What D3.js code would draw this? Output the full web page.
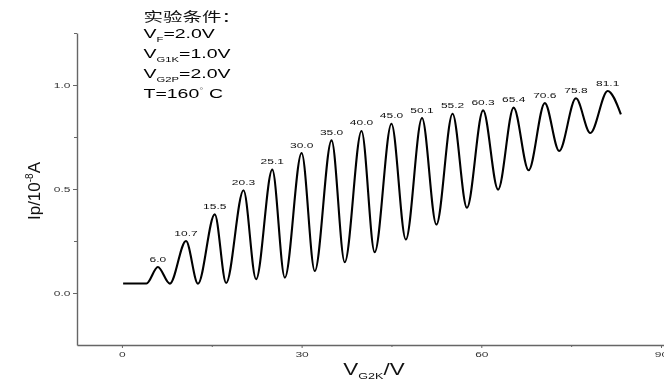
<!DOCTYPE html>
<html>
<head>
<meta charset="utf-8">
<script src="https://cdn.jsdelivr.net/npm/d3@7"></script>
<style>
  html, body { margin: 0; padding: 0; background: #fff; }
  svg { display: block; }
  text { font-family: Arial, "Liberation Sans", sans-serif; }
  .gray-aa { filter: grayscale(100%); }
</style>
</head>
<body>
<svg id="chart" width="664" height="381"></svg>
<script>
// ---------- data ----------
const peakX = [6.0, 10.7, 15.5, 20.3, 25.1, 30.0, 35.0, 40.0, 45.0, 50.1, 55.2, 60.3, 65.4, 70.6, 75.8, 81.1];
const peakY = [0.125, 0.25, 0.378, 0.494, 0.593, 0.673, 0.734, 0.779, 0.814, 0.841, 0.862, 0.878, 0.891, 0.913, 0.936, 0.971];
const valleyX = [8.0, 12.7, 17.4, 22.4, 27.2, 32.2, 37.2, 42.2, 47.4, 52.5, 57.6, 62.8, 67.9, 73.0, 78.2];
const valleyY = [0.045, 0.045, 0.048, 0.066, 0.074, 0.106, 0.148, 0.196, 0.257, 0.329, 0.41, 0.497, 0.59, 0.683, 0.769];
const startX = [0.2, 4.1];
const startY = [0.046, 0.046];
const endX = [83.3];
const endY = [0.859];
const peakLabels = ["6.0","10.7","15.5","20.3","25.1","30.0","35.0","40.0","45.0","50.1","55.2","60.3","65.4","70.6","75.8","81.1"];
const xMajorTicks = [0, 30, 60, 90];
const xMinorTicks = [15, 45, 75];
const yMajorTicks = [0.0, 0.5, 1.0];
const yMinorTicks = [0.25, 0.75, 1.25];
const xTitleMain = "V", xTitleSub = "G2K", xTitleEnd = "/V";
const yTitleMain = "Ip/10", yTitleSup = "-8", yTitleEnd = "A";
const condTitle = "实验条件：";
const condLines = [
  {main: "V", sub: "F", rest: "=2.0V"},
  {main: "V", sub: "G1K", rest: "=1.0V"},
  {main: "V", sub: "G2P", rest: "=2.0V"}
];
const tempLine = {pre: "T=160", sup: "°", post: " C"};

// ---------- build the curve points ----------
const pts = [];
startX.forEach((x, i) => pts.push([x, startY[i]]));
peakX.forEach((x, i) => {
  pts.push([x, peakY[i]]);
  if (i < valleyX.length) pts.push([valleyX[i], valleyY[i]]);
});
endX.forEach((x, i) => pts.push([x, endY[i]]));

// ---------- scales ----------
const svg = d3.select("#chart");
const x = d3.scaleLinear().domain([-7.5, 90.5]).range([77, 664]);
const y = d3.scaleLinear().domain([-0.25, 1.25]).range([345, 33]);
const SX = 1.5; // horizontal stretch of the text in the reference

// ---------- axes ----------
const axisColor = "#666";
const gx = svg.append("g").attr("class", "gray-aa").attr("transform", `translate(0,${y(-0.25)})`)
  .call(d3.axisBottom(x).tickValues(xMajorTicks).tickSize(3).tickSizeOuter(0).tickPadding(3).tickFormat(d3.format("d")));
const gxm = svg.append("g").attr("transform", `translate(0,${y(-0.25)})`)
  .call(d3.axisBottom(x).tickValues(xMinorTicks).tickSize(2).tickSizeOuter(0).tickFormat(""));
gxm.select(".domain").remove();

const gy = svg.append("g").attr("class", "gray-aa").attr("transform", `translate(${x(-7.5)},0)`)
  .call(d3.axisLeft(y).tickValues(yMajorTicks).tickSize(4).tickSizeOuter(0).tickFormat(d3.format(".1f")));
const gym = svg.append("g").attr("transform", `translate(${x(-7.5)},0)`)
  .call(d3.axisLeft(y).tickValues(yMinorTicks).tickSize(3).tickSizeOuter(0).tickFormat(""));
gym.select(".domain").remove();

[gx, gxm, gy, gym].forEach(g => {
  g.selectAll(".domain").attr("stroke", axisColor).attr("stroke-width", 1.4);
  g.selectAll(".tick line").attr("stroke", axisColor).attr("stroke-width", 1);
  g.selectAll(".tick text").attr("fill", "#333").style("font-size", "8px")
    .style("font-family", "Arial, 'Liberation Sans', sans-serif");
});
gx.selectAll(".tick text").attr("transform", `scale(${SX},1)`);
gy.selectAll(".tick text").attr("x", -6.5 / SX).attr("transform", `scale(${SX},1)`);

// ---------- curve ----------
const line = d3.line().x(d => x(d[0])).y(d => y(d[1])).curve(d3.curveMonotoneX);
svg.append("path").datum(pts)
  .attr("d", line).attr("fill", "none").attr("stroke", "#000").attr("stroke-width", 2.1);

// ---------- peak labels ----------
svg.append("g").attr("class", "gray-aa").selectAll("text").data(peakX).join("text")
  .attr("transform", (d, i) => `translate(${x(d)},${y(peakY[i]) - 5.5}) scale(${SX},1)`)
  .attr("text-anchor", "middle").attr("fill", "#111").style("font-size", "8px")
  .text((d, i) => peakLabels[i]);

// ---------- axis titles ----------
const titles = svg.append("g").attr("class", "gray-aa");
const xt = titles.append("text")
  .attr("transform", `translate(374,375) scale(1.4,1)`)
  .attr("text-anchor", "middle").attr("fill", "#111").style("font-size", "16px");
xt.append("tspan").text(xTitleMain);
xt.append("tspan").attr("dy", 3.5).style("font-size", "9px").text(xTitleSub);
xt.append("tspan").attr("dy", -3.5).text(xTitleEnd);

const yt = titles.append("text")
  .attr("transform", `translate(40,191) rotate(-90)`)
  .attr("text-anchor", "middle").attr("fill", "#111").style("font-size", "17px");
yt.append("tspan").text(yTitleMain);
yt.append("tspan").attr("dy", -7).style("font-size", "10px").text(yTitleSup);
yt.append("tspan").attr("dy", 7).text(yTitleEnd);

// ---------- experimental conditions ----------
const cx0 = 143.5;
const cond = svg.append("g").attr("class", "gray-aa");
cond.append("text")
  .attr("transform", `translate(${cx0},21) scale(${SX},1)`)
  .attr("fill", "#111").style("font-size", "13px")
  .style("font-family", "'Noto Sans CJK SC', sans-serif")
  .text(condTitle);

condLines.forEach((c, i) => {
  const t = cond.append("text")
    .attr("transform", `translate(${cx0},${37.5 + i * 20}) scale(${SX},1)`)
    .attr("fill", "#000").style("font-size", "13px");
  t.append("tspan").text(c.main);
  t.append("tspan").attr("dy", 4).style("font-size", "7.5px").text(c.sub);
  t.append("tspan").attr("dy", -4).text(c.rest);
});

const tt = cond.append("text")
  .attr("transform", `translate(${cx0},97.5) scale(${SX},1)`)
  .attr("fill", "#000").style("font-size", "13px");
tt.append("tspan").text(tempLine.pre);
tt.append("tspan").attr("dy", -5).attr("fill", "#777").style("font-size", "7px").text(tempLine.sup);
tt.append("tspan").attr("dy", 5).text(tempLine.post);
</script>
</body>
</html>
